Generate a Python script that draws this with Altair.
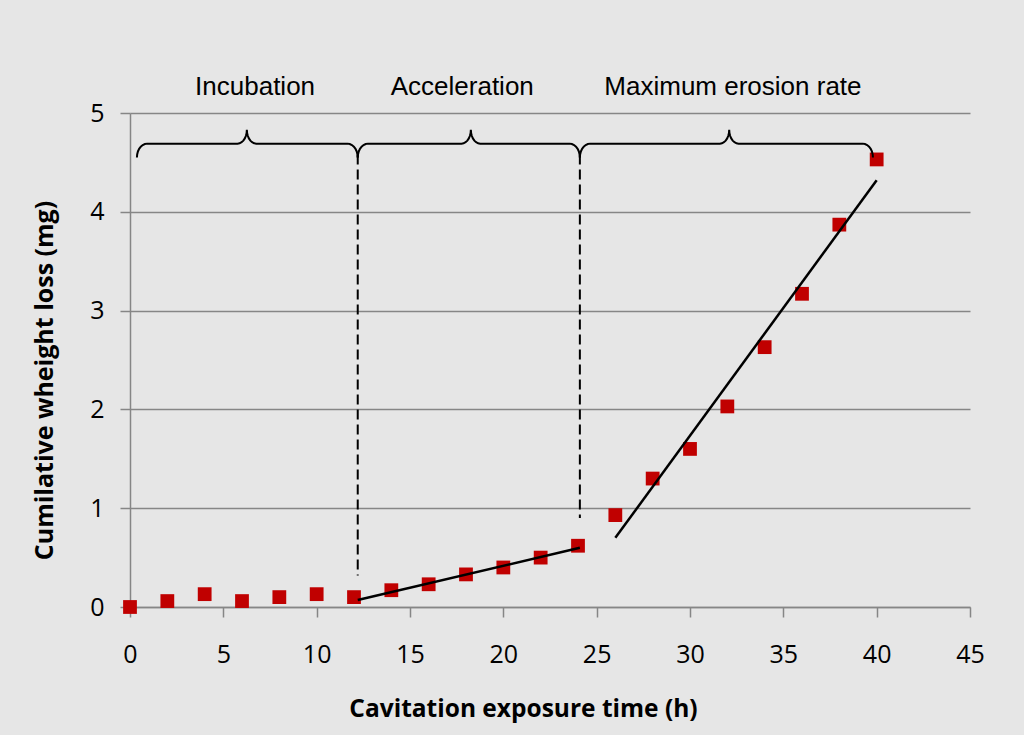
import altair as alt
import numpy as np
import pandas as pd

# Measured data
time_h = [0, 2, 4, 6, 8, 10, 12, 14, 16, 18, 20, 22, 24, 26, 28, 30, 32, 34, 36, 38, 40]
loss_mg = [0.0, 0.06, 0.13, 0.06, 0.10, 0.13, 0.10, 0.17, 0.23, 0.33, 0.40, 0.50, 0.62,
           0.93, 1.30, 1.60, 2.03, 2.63, 3.17, 3.87, 4.53]

# Fitted trend lines (start/end)
fit_id = ["acc", "acc", "max", "max"]
fit_x = [12.2, 24.1, 26.0, 40.0]
fit_y = [0.07, 0.60, 0.70, 4.32]

# Dashed stage boundaries
bound_x = [12.2, 24.1]
bound_top = [4.58, 4.58]
bound_bottom = [0.32, 0.90]

# Stage labels and braces
stage_names = ["Incubation", "Acceleration", "Maximum erosion rate"]
stage_label_x = [6.7, 17.8, 32.3]
brace_start = [0.37, 12.2, 24.1]
brace_end = [12.2, 24.1, 39.8]
brace_tip = [6.26, 18.26, 32.1]

LABEL_Y = 5.26
Y_END, Y_MID, Y_TIP = 4.55, 4.69, 4.83
R_END, R_TIP = 0.55, 0.5

def brace_points(x0, x1, xm):
    pts = []
    t = np.linspace(0, np.pi / 2, 8)
    for a in t:
        pts.append((x0 + R_END - R_END * np.cos(a), Y_END + (Y_MID - Y_END) * np.sin(a)))
    for a in t:
        pts.append((xm - R_TIP + R_TIP * np.sin(a), Y_TIP - (Y_TIP - Y_MID) * np.cos(a)))
    for a in t[::-1]:
        pts.append((xm + R_TIP - R_TIP * np.sin(a), Y_TIP - (Y_TIP - Y_MID) * np.cos(a)))
    for a in t[::-1]:
        pts.append((x1 - R_END + R_END * np.cos(a), Y_END + (Y_MID - Y_END) * np.sin(a)))
    return pts

rows = []
for i, (a, b, m) in enumerate(zip(brace_start, brace_end, brace_tip)):
    for k, (px, py) in enumerate(brace_points(a, b, m)):
        rows.append({"brace": stage_names[i], "order": k, "x": px, "y": py})
brace_df = pd.DataFrame(rows)

pts_df = pd.DataFrame({"t": time_h, "w": loss_mg})
fit_df = pd.DataFrame({"id": fit_id, "x": fit_x, "y": fit_y})
bound_df = pd.DataFrame({"x": bound_x, "y1": bound_top, "y2": bound_bottom})
label_df = pd.DataFrame({"name": stage_names, "x": stage_label_x, "y": [LABEL_Y] * 3})

GRAY = "#868686"
xscale = alt.Scale(domain=[0, 45], nice=False, zero=False)
yscale = alt.Scale(domain=[0, 5], nice=False)

xaxis = alt.Axis(values=list(range(0, 46, 5)), title="Cavitation exposure time (h)",
                 format="d", grid=False, tickSize=10, tickColor=GRAY, tickWidth=1.5,
                 domainColor=GRAY, domainWidth=1.5, labelFont="Open Sans",
                 labelFontSize=25, labelColor="black", labelPadding=25, labelFlush=False,
                 labelOverlap=False,
                 titleFont="Open Sans", titleFontSize=24.5, titleFontWeight="bold",
                 titleColor="black", titlePadding=30, titleX=393)
yaxis = alt.Axis(values=[0, 1, 2, 3, 4, 5], title="Cumilative wheight loss (mg)",
                 format="d", grid=True, gridColor=GRAY, gridWidth=1.5, tickSize=10,
                 tickColor=GRAY, tickWidth=1.5, domainColor=GRAY, domainWidth=1.5,
                 labelFont="Open Sans", labelFontSize=25, labelColor="black",
                 labelPadding=16, labelFlush=False, labelOverlap=False,
                 titleFont="Open Sans", titleFontSize=25,
                 titleFontWeight="bold", titleColor="black", titlePadding=32, titleY=267)

points = alt.Chart(pts_df).mark_square(size=190, color="#c00000", opacity=1).encode(
    x=alt.X("t:Q", scale=xscale, axis=xaxis),
    y=alt.Y("w:Q", scale=yscale, axis=yaxis),
)

fits = alt.Chart(fit_df).mark_line(color="black", strokeWidth=2.5).encode(
    x=alt.X("x:Q", scale=xscale),
    y=alt.Y("y:Q", scale=yscale),
    detail="id:N",
)

bounds = alt.Chart(bound_df).mark_rule(color="black", strokeWidth=2, strokeDash=[10, 5]).encode(
    x=alt.X("x:Q", scale=xscale),
    y=alt.Y("y1:Q", scale=yscale),
    y2="y2:Q",
)

braces = alt.Chart(brace_df).mark_line(color="black", strokeWidth=2, interpolate="linear").encode(
    x=alt.X("x:Q", scale=xscale),
    y=alt.Y("y:Q", scale=yscale),
    detail="brace:N",
    order="order:Q",
)

labels = alt.Chart(label_df).mark_text(font="Liberation Sans", fontSize=26, color="black",
                                        align="center", baseline="middle").encode(
    x=alt.X("x:Q", scale=xscale),
    y=alt.Y("y:Q", scale=yscale),
    text="name:N",
)

chart = alt.layer(points, fits, bounds, braces, labels).properties(
    width=840, height=494,
    background="#e6e6e6",
    autosize=alt.AutoSizeParams(type="none"),
    padding={"left": 130, "top": 113, "right": 54, "bottom": 128},
).configure_view(stroke=None)

chart.save("out.html", embed_options={"renderer": "svg", "actions": False})
